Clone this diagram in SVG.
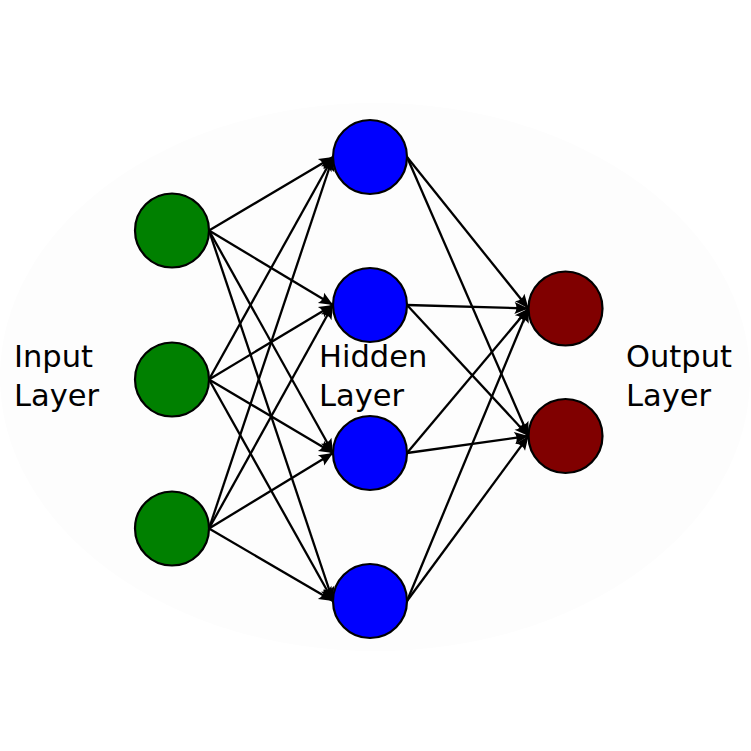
<svg xmlns="http://www.w3.org/2000/svg" width="751" height="751" viewBox="0 0 751 751">
<style>
.n{stroke:#000;stroke-width:2.2}
.in{fill:#008000}.hid{fill:#0000ff}.out{fill:#800000}
.c line{stroke:#000;stroke-width:2.3;marker-end:url(#ah)}
text{font-family:"DejaVu Sans","Liberation Sans",sans-serif;font-size:30.5px;fill:#000}
</style>
<defs>
<marker id="ah" markerUnits="userSpaceOnUse" viewBox="-15 -7 16 14" refX="0" refY="0" markerWidth="16" markerHeight="14" orient="auto" overflow="visible">
<path d="M0,0 L-14,-6 Q-10,0 -14,6 Z" fill="#000"/>
</marker>
</defs>
<rect width="751" height="751" fill="#fff"/>
<ellipse cx="375" cy="377" rx="375" ry="274" fill="#fdfdfd"/>
<g id="connectors" class="c">
<line x1="209" y1="230.5" x2="333" y2="157"/>
<line x1="209" y1="230.5" x2="333" y2="305"/>
<line x1="209" y1="230.5" x2="333" y2="453"/>
<line x1="209" y1="230.5" x2="333" y2="601"/>
<line x1="209" y1="379.5" x2="333" y2="157"/>
<line x1="209" y1="379.5" x2="333" y2="305"/>
<line x1="209" y1="379.5" x2="333" y2="453"/>
<line x1="209" y1="379.5" x2="333" y2="601"/>
<line x1="209" y1="528.5" x2="333" y2="157"/>
<line x1="209" y1="528.5" x2="333" y2="305"/>
<line x1="209" y1="528.5" x2="333" y2="453"/>
<line x1="209" y1="528.5" x2="333" y2="601"/>
<line x1="407" y1="157" x2="528.5" y2="308.5"/>
<line x1="407" y1="157" x2="528.5" y2="436"/>
<line x1="407" y1="305" x2="528.5" y2="308.5"/>
<line x1="407" y1="305" x2="528.5" y2="436"/>
<line x1="407" y1="453" x2="528.5" y2="308.5"/>
<line x1="407" y1="453" x2="528.5" y2="436"/>
<line x1="407" y1="601" x2="528.5" y2="308.5"/>
<line x1="407" y1="601" x2="528.5" y2="436"/>
</g>
<g id="input1"><circle class="n in" cx="172" cy="230.5" r="37"/></g>
<g id="input2"><circle class="n in" cx="172" cy="379.5" r="37"/></g>
<g id="input3"><circle class="n in" cx="172" cy="528.5" r="37"/></g>
<g id="hidden1"><circle class="n hid" cx="370" cy="157" r="37"/></g>
<g id="hidden2"><circle class="n hid" cx="370" cy="305" r="37"/></g>
<g id="hidden3"><circle class="n hid" cx="370" cy="453" r="37"/></g>
<g id="hidden4"><circle class="n hid" cx="370" cy="601" r="37"/></g>
<g id="output1"><circle class="n out" cx="565.5" cy="308.5" r="37"/></g>
<g id="output2"><circle class="n out" cx="565.5" cy="436" r="37"/></g>
<g id="label-input"><text x="14" y="367">Input</text><text x="14" y="406">Layer</text></g>
<g id="label-hidden"><text x="319" y="367">Hidden</text><text x="319" y="406">Layer</text></g>
<g id="label-output"><text x="626" y="367">Output</text><text x="626" y="406">Layer</text></g>
</svg>
